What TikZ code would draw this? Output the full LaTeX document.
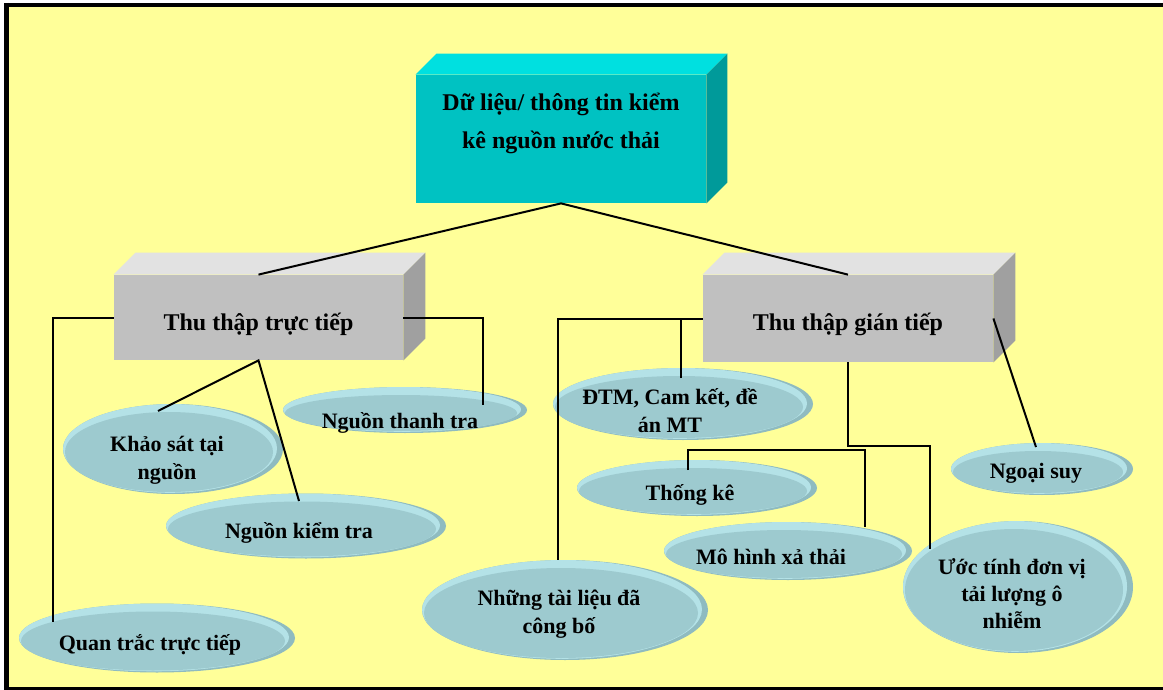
\documentclass[tikz,border=0pt]{standalone}
\usepackage{fontspec}
\setmainfont{Liberation Serif}
\usetikzlibrary{shapes.geometric, positioning, calc}
\definecolor{paper}{HTML}{FFFF99}
\definecolor{cyanfront}{HTML}{00C2C2}
\definecolor{cyantop}{HTML}{00E0E0}
\definecolor{cyanside}{HTML}{009A9A}
\definecolor{grayfront}{HTML}{C0C0C0}
\definecolor{graytop}{HTML}{E2E2E2}
\definecolor{grayside}{HTML}{A0A0A0}
\definecolor{discedge}{HTML}{8FBBC0}
\definecolor{discrim}{HTML}{B4E2E7}
\definecolor{discface}{HTML}{9DCACF}
\tikzset{
    box/.style={
        rectangle,
        fill=grayfront,
        minimum width=145pt,
        minimum height=43pt,
        inner sep=0pt,
        align=center,
        font=\fontsize{12}{14}\selectfont\bfseries
    },
    % the disc is drawn shifted against its text
    disc/.style 2 args={
        ellipse,
        inner sep=0pt,
        align=center,
        font=\fontsize{11}{14}\selectfont\bfseries,
        preaction={
            fill=discedge,
            transform canvas={xshift=#1, yshift=#2},
            path picture={
                \fill[discrim] let \p1=(path picture bounding box.north east), \p2=(path picture bounding box.center) in
                    ($(\p2)+(-1.5pt,0.3pt)$) ellipse ({\x1-\x2-1.5pt} and {\y1-\y2-0.3pt});
                \fill[discface] let \p1=(path picture bounding box.north east), \p2=(path picture bounding box.center) in
                    ($(\p2)+(-2pt,-1.5pt)$) ellipse ({\x1-\x2-3pt} and {\y1-\y2-2.5pt});
            }
        }
    },
    link/.style={
        draw=black,
        line width=1pt
    }
}

\begin{document}
\begin{tikzpicture}[x=0.5pt, y=-0.5pt]
    \useasboundingbox (0,0) rectangle (1163,690);

    % Frame
    \fill[paper] (6,4) rectangle (1163,688);
    \draw[line width=2.5pt] (6.7,3) -- (6.7,690);
    \draw[line width=2pt] (4,4.7) -- (1163,4.7);
    \draw[line width=1.5pt] (4,688.5) -- (1163,688.5);

    % Top box
    \node (tong) [box, fill=cyanfront, minimum height=64pt,
        label={[anchor=north, yshift=-5.5pt, align=center, font=\fontsize{12}{19}\selectfont\bfseries]north:Dữ liệu/ thông tin kiểm\\kê nguồn nước thải}] at (561,139) {};
    \fill[cyantop] (tong.north west) -- ++(21,-21) -- ([shift={(21,-21)}]tong.north east) -- (tong.north east) -- cycle;
    \fill[cyanside] (tong.north east) -- ++(21,-21) -- ([shift={(21,-21)}]tong.south east) -- (tong.south east) -- cycle;

    % Direct collection
    \node (trt) [box, minimum width=144.5pt, minimum height=42.5pt] at (258.5,317.5) {\raisebox{-3.5pt}[\height][\depth]{Thu thập trực tiếp}};
    \fill[graytop] (trt.north west) -- ++(22,-22) -- ([shift={(22,-22)}]trt.north east) -- (trt.north east) -- cycle;
    \fill[grayside] (trt.north east) -- ++(22,-22) -- ([shift={(22,-22)}]trt.south east) -- (trt.south east) -- cycle;

    % Indirect collection
    \node (gtt) [box, minimum height=43.5pt] at (848,318.5) {\raisebox{-3pt}[\height][\depth]{Thu thập gián tiếp}};
    \fill[graytop] (gtt.north west) -- ++(22,-22) -- ([shift={(22,-22)}]gtt.north east) -- (gtt.north east) -- cycle;
    \fill[grayside] (gtt.north east) -- ++(22,-22) -- ([shift={(22,-22)}]gtt.south east) -- (gtt.south east) -- cycle;

    % Discs, left branch
    \node (khaosat) [disc={3pt}{5.5pt}, minimum width=110pt, minimum height=45pt] at (167,460) {Khảo sát tại\\nguồn};
    \node (thanhtra) [disc={2.5pt}{6.5pt}, minimum width=122pt, minimum height=23pt] at (400,423) {Nguồn thanh tra};
    \node (kiemtra) [disc={3.5pt}{3.5pt}, minimum width=140pt, minimum height=32.5pt] at (299,533) {Nguồn kiểm tra};
    \node (quantrac) [disc={3.5pt}{3.5pt}, minimum width=138pt, minimum height=34.5pt] at (150,645) {Quan trắc trực tiếp};

    % Discs, right branch
    \node (dtm) [disc={6.5pt}{3.5pt}, minimum width=130pt, minimum height=36pt] at (670,411) {ĐTM, Cam kết, đề\\án MT};
    \node (thongke) [disc={3.5pt}{3.5pt}, minimum width=120pt, minimum height=28pt] at (690,495) {Thống kê};
    \node (mohinh) [disc={8.5pt}{3pt}, minimum width=124pt, minimum height=29pt] at (771,557) {Mô hình xả thải};
    \node (tailieu) [disc={3pt}{2pt}, minimum width=143pt, minimum height=50pt] at (559,614) {Những tài liệu đã\\công bố};
    \node (uoctinh) [disc={3pt}{3.5pt}, minimum width=115pt, minimum height=66pt, font=\fontsize{11}{13.5}\selectfont\bfseries] at (1012,594) {Ước tính đơn vị\\tải lượng ô\\nhiễm};
    \node (ngoaisuy) [disc={3pt}{2pt}, minimum width=91pt, minimum height=26pt] at (1036,473) {Ngoại suy};

    % Connections from top box
    \draw[link] (trt.north) -- (tong.south) -- (gtt.north);

    % Connections for left branch
    \draw[link] (trt.west) -| ([shift={(-97,-23)}]quantrac.center);
    \draw[link] (trt.east) -| ([shift={(83,-18)}]thanhtra.center);
    \draw[link] ([shift={(-9,-49)}]khaosat.center) -- (trt.south) -- ([shift={(0,-32)}]kiemtra.center);

    % Connections for right branch
    \coordinate (nhanh) at ($(gtt.south)+(0,84)$);
    \draw[link] (gtt.west) -| ([shift={(-1,-54)}]tailieu.center);
    \draw[link] ([shift={(11,-33)}]dtm.center) |- (gtt.west);
    \draw[link] (gtt.south) -- (nhanh) -| ([shift={(-82,-45)}]uoctinh.center);
    \draw[link] ([shift={(-2,-25)}]thongke.center) |- ([yshift=-2pt]nhanh) -| ([shift={(94,-30)}]mohinh.center);
    \draw[link] (gtt.east) -- ([shift={(0,-26)}]ngoaisuy.center);
\end{tikzpicture}
\end{document}
